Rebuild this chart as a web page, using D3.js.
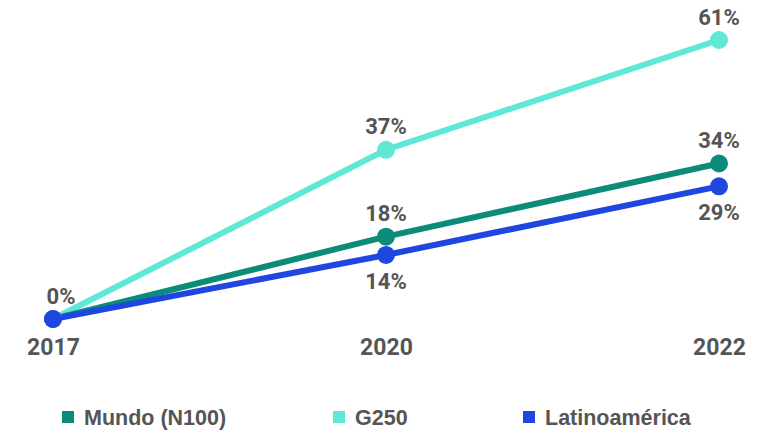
<!DOCTYPE html>
<html><head><meta charset="utf-8">
<script src="https://cdn.jsdelivr.net/npm/d3@7"></script>
<style>body{margin:0;background:#fff}svg{display:block}</style>
</head><body><svg id="c" width="771" height="432"></svg>
<script>
const years = ["2017", "2020", "2022"];
const seriesNames = ["Mundo (N100)", "G250", "Latinoamérica"];
const mundo = [0, 18, 34];
const g250 = [0, 37, 61];
const latam = [0, 14, 29];
const labelPos = [["above","above","above"],["above","above","above"],["none","below","below"]];
const colors = ["#0b8c78", "#5fe8d6", "#1f47e0"];

const svg = d3.select("#c");
const x = d3.scalePoint().domain(years).range([53, 719]);
const y = d3.scaleLinear().domain([0, 61]).range([319, 40]);
const series = [mundo, g250, latam];
const line = d3.line().x((d,i)=>x(years[i])).y(d=>y(d));
const textCol = "#555555";

// x axis labels
const ax = svg.append("g").attr("transform","translate(0,339)")
  .call(d3.axisBottom(x).tickSize(0).tickPadding(0));
ax.select(".domain").remove();
ax.selectAll("text").attr("fill",textCol).attr("font-family","Roboto, 'Liberation Sans', sans-serif")
  .attr("font-weight","bold").attr("font-size","23px").attr("dy","0.71em");

const order = [1,0,2];
order.forEach(si=>{
  svg.append("path").datum(series[si]).attr("d",line).attr("fill","none")
    .attr("stroke",colors[si]).attr("stroke-width",6).attr("stroke-linecap","round");
});
order.forEach(si=>{
  svg.append("g").selectAll("circle").data(series[si]).join("circle")
    .attr("cx",(d,i)=>x(years[i])).attr("cy",d=>y(d)).attr("r",9).attr("fill",colors[si]);
});
// labels
series.forEach((s,si)=>{
  s.forEach((v,i)=>{
    const pos = labelPos[si][i];
    if(pos==="none") return;
    if(i===0 && si!==0) return;
    const ty = pos==="above" ? y(v)-23 : y(v)+26;
    svg.append("text").attr("x",x(years[i]) + (i===0?8:0)).attr("y",ty).attr("dy","0.35em")
      .attr("text-anchor","middle").attr("fill",textCol)
      .attr("font-family","Roboto, 'Liberation Sans', sans-serif").attr("font-weight","bold")
      .attr("font-size","22px").text(v+"%");
  });
});
// legend
const legX = [62, 333, 523];
seriesNames.forEach((n,i)=>{
  const g = svg.append("g").attr("transform",`translate(${legX[i]},417)`);
  g.append("rect").attr("x",0).attr("y",-6).attr("width",12).attr("height",12).attr("fill",colors[i]);
  g.append("text").attr("x",22).attr("y",0).attr("dy","0.35em").attr("fill",textCol)
    .attr("font-family","'Liberation Sans', Arial, sans-serif")
    .attr("font-weight","bold").attr("font-size","21.5px").text(n);
});
</script></body></html>
